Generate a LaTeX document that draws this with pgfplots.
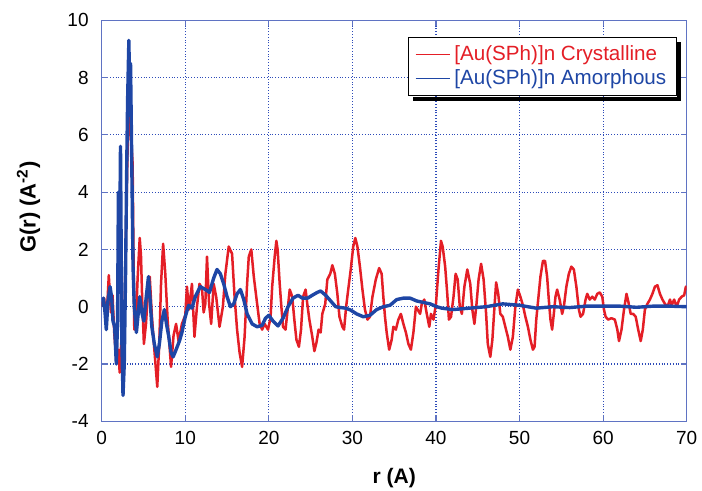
\documentclass[border=0pt]{standalone}
\usepackage{pgfplots}
\pgfplotsset{compat=1.18}
\usepackage{fontspec}
\setmainfont{Liberation Sans}

\definecolor{crystred}{RGB}{228,30,38}
\definecolor{amorphblue}{RGB}{30,70,165}
\definecolor{framecol}{RGB}{95,115,195}
\definecolor{gridcol}{RGB}{45,75,185}

\begin{document}
\begin{tikzpicture}
\useasboundingbox (-50.85pt,-34.85pt) rectangle (300.15pt,210.65pt);
\begin{axis}[
  at={(0,0)}, anchor=south west,
  scale only axis,
  width=292.5pt, height=200.5pt,
  xmin=0, xmax=70, ymin=-4, ymax=10,
  xtick={0,10,...,70},
  ytick={-4,-2,...,10},
  grid=major,
  major grid style={gridcol, densely dotted, line width=0.6pt},
  axis line style={framecol, line width=0.7pt},
  tick style={framecol, line width=0.6pt},
  major tick length=3pt,
  tick align=inside,
  /pgf/number format/assume math mode=true,
  ticklabel style={font=\fontsize{9.5}{11}\selectfont},
  xticklabel style={yshift=-1.5pt},
  yticklabel style={xshift=-3pt},
  xlabel={\textbf{r (A)}},
  ylabel={\textbf{G(r) (A\textsuperscript{-2})}},
  xlabel style={font=\fontsize{10.5}{12}\selectfont, at={(axis description cs:0.5,0)}, anchor=center, yshift=-28.4pt},
  ylabel style={font=\fontsize{11}{13}\selectfont, at={(axis description cs:-0.1251,0.534)}, anchor=center},
  legend style={name=lgd, at={(axis description cs:1,1)}, anchor=north east,
    xshift=-4.9pt, yshift=-8.4pt,
    draw=black, line width=0.6pt,
    font=\fontsize{10.3}{12}\selectfont,
    row sep=-1pt, inner xsep=3pt, inner ysep=2pt},
  legend cell align=left,
  legend image post style={line width=0.8pt},
]
\addplot[crystred, line width=1.25pt, line join=round] coordinates {
(0,0) (0.3,0.3) (0.55,-0.6) (0.85,1.1) (1.1,-0.2) (1.3,0.4) (1.5,-0.9) (1.75,-1.9)
(2.0,-1.5) (2.15,-2.3) (2.35,-1.2) (2.5,-2.4) (2.7,-1.0) (2.9,2.5) (3.1,5.5) (3.35,7.1)
(3.5,6.0) (3.7,5.0) (3.8,2.0) (3.9,-0.8) (4.1,-0.5) (4.3,1.0) (4.55,2.4) (4.7,1.8)
(4.85,0.2) (5.05,-1.3) (5.3,-0.6) (5.55,0.6) (5.75,1.05) (6.0,-0.3) (6.3,-1.5) (6.65,-2.8)
(6.9,-1.2) (7.1,0.8) (7.35,2.2) (7.6,1.2) (7.9,-0.5) (8.3,-2.1) (8.6,-1.0) (8.9,-0.6)
(9.2,-1.2) (9.6,-0.6) (10.0,-0.3) (10.2,0.7) (10.45,-0.1) (10.8,0.8) (11.1,-1.05) (11.4,0)
(11.7,0.8) (12.0,0.65) (12.2,-0.2) (12.4,0.1) (12.6,1.75) (12.85,0.1) (13.1,-0.6) (13.4,0.8)
(13.7,0.35) (14.1,-0.7) (14.5,0) (14.8,1.15) (15.2,2.1) (15.6,1.85) (15.9,0.35) (16.2,-0.8)
(16.5,-1.6) (16.8,-2.1) (17.1,-1.05) (17.4,0.8) (17.6,1.75) (17.9,2.0) (18.2,1.05) (18.6,0.1)
(18.9,-0.6) (19.2,-0.8) (19.5,-0.6) (19.9,-0.8) (20.2,-0.4) (20.4,0.7) (20.7,1.75) (20.9,2.3)
(21.05,2.0) (21.3,0.8) (21.5,0) (21.7,-0.7) (22.0,-0.8) (22.25,-0.1) (22.5,0.6) (22.8,0.35)
(23.05,-0.45) (23.3,-1.15) (23.6,-1.4) (23.85,-0.8) (24.1,0.35) (24.4,0.6) (24.6,0.1) (24.85,-0.45)
(25.2,-1.05) (25.45,-1.55) (25.7,-1.25) (25.95,-0.8) (26.2,-0.9) (26.4,-0.25) (26.75,0.1) (27.0,0.95)
(27.35,1.15) (27.6,1.45) (27.9,1.15) (28.2,0.45) (28.45,-0.35) (28.8,-0.7) (29.0,-0.8) (29.25,0)
(29.5,0.6) (29.8,1.3) (30.1,2.1) (30.35,2.4) (30.6,2.1) (30.9,1.4) (31.2,0.6) (31.5,-0.1)
(31.8,-0.45) (32.1,-0.35) (32.4,0.35) (32.8,0.95) (33.2,1.35) (33.5,1.15) (33.7,0.35) (33.9,-0.35)
(34.1,-0.9) (34.4,-1.5) (34.7,-1.15) (34.9,-0.7) (35.2,-0.8) (35.5,-0.45) (35.8,-0.25) (36.1,-0.6)
(36.4,-0.9) (36.7,-1.3) (37.0,-1.5) (37.3,-0.9) (37.6,0) (37.8,-0.1) (38.1,-0.25) (38.3,0.1)
(38.6,0.25) (38.9,-0.25) (39.2,-0.7) (39.4,-0.25) (39.7,-0.45) (40.0,0.1) (40.3,1.3) (40.6,2.3)
(40.8,2.1) (41.1,1.4) (41.35,0.45) (41.55,-0.45) (41.8,-0.35) (42.1,0.35) (42.35,1.15) (42.6,0.95)
(42.85,0) (43.1,-0.25) (43.4,0.7) (43.75,1.3) (44.1,0.8) (44.35,-0.1) (44.6,-0.6) (44.85,0.1)
(45.1,0.95) (45.4,1.5) (45.7,0.95) (46.0,-0.25) (46.2,-1.3) (46.5,-1.75) (46.75,-1.15) (47.0,0)
(47.2,0.85) (47.45,0.45) (47.7,-0.25) (48.0,-0.35) (48.3,-0.7) (48.6,-1.05) (48.9,-1.5) (49.2,-1.05)
(49.5,0) (49.8,0.6) (50.1,0.35) (50.4,0.05) (50.7,-0.35) (51.0,-0.7) (51.3,-1.15) (51.6,-1.5)
(51.8,-1.4) (52.0,-0.45) (52.3,0.45) (52.5,1.05) (52.8,1.6) (53.05,1.6) (53.3,1.05) (53.5,0.25)
(53.7,-0.45) (53.9,-0.8) (54.1,-0.25) (54.3,0.35) (54.5,0.6) (54.8,0.25) (55.1,-0.25) (55.3,0)
(55.6,0.7) (55.9,1.15) (56.2,1.4) (56.5,1.3) (56.8,0.7) (57.1,-0.1) (57.3,-0.35) (57.6,-0.25)
(57.9,0.25) (58.1,0.45) (58.4,0.25) (58.7,0.35) (59.0,0.25) (59.3,0.45) (59.6,0.5) (59.9,0.35)
(60.1,-0.1) (60.3,-0.35) (60.6,-0.45) (61.0,-0.4) (61.4,-0.45) (61.7,-0.8) (61.9,-1.2) (62.2,-0.8)
(62.5,-0.1) (62.8,0.45) (63.0,0.2) (63.3,-0.25) (63.6,-0.25) (63.9,-0.35) (64.2,-0.8) (64.5,-1.2)
(64.75,-0.8) (65.0,-0.1) (65.3,0.1) (65.6,0.25) (65.9,0.45) (66.2,0.7) (66.5,0.75) (66.8,0.45)
(67.1,0.25) (67.4,0.1) (67.7,0) (68.0,0.25) (68.2,0.05) (68.5,0.25) (68.8,0) (69.1,0.25)
(69.4,0.35) (69.7,0.4) (69.9,0.7) (70,0.6)
};
\addlegendentry{\textcolor{crystred}{[Au(SPh)]n Crystalline}}
\addplot[amorphblue, line width=1.7pt, line join=round] coordinates {
(0,0) (0.2,0.3) (0.4,-0.2) (0.55,-0.8) (0.75,0.2) (1.0,0.7) (1.2,0.3) (1.35,-0.5)
(1.55,-0.7) (1.75,-2.0) (1.9,-0.5) (2.0,4.0) (2.1,0.5) (2.25,5.6) (2.4,-1.0) (2.55,-3.1)
(2.7,-2.0) (2.85,1.0) (3.0,5.0) (3.1,7.2) (3.25,9.3) (3.35,7.5) (3.45,8.5) (3.6,5.0)
(3.75,1.4) (3.9,0) (4.15,-0.9) (4.35,-0.3) (4.55,0.35) (4.8,-0.2) (5.05,-0.5) (5.35,0.4)
(5.6,1.05) (5.8,0.2) (6.0,-0.7) (6.3,-1.3) (6.65,-1.75) (6.9,-1.3) (7.2,-0.5) (7.5,-0.1)
(7.75,-0.6) (8.0,-1.0) (8.3,-1.6) (8.55,-1.75) (8.9,-1.5) (9.3,-1.2) (9.6,-0.9) (10.0,-0.35)
(10.4,0.05) (10.8,-0.05) (11.2,0.35) (11.8,0.7) (12.4,0.6) (12.9,0.5) (13.4,1.0) (13.8,1.3)
(14.2,1.15) (14.6,0.8) (15.0,0.35) (15.4,0) (15.8,0.1) (16.2,0.45) (16.6,0.6) (17.0,0.25)
(17.4,-0.25) (18.0,-0.6) (18.6,-0.7) (19.2,-0.65) (19.6,-0.4) (20.0,-0.3) (20.5,-0.5) (21.1,-0.67)
(21.7,-0.4) (22.3,0) (22.9,0.3) (23.5,0.4) (24.0,0.3) (24.65,0.3) (25.2,0.4) (25.8,0.5)
(26.2,0.55) (26.8,0.4) (27.4,0.2) (28.0,0) (28.6,-0.03) (29.2,-0.05) (29.8,-0.12) (30.5,-0.25)
(31.3,-0.35) (32.1,-0.3) (32.9,-0.1) (33.7,0) (34.5,0.05) (35.3,0.25) (36.1,0.3) (36.9,0.3)
(37.7,0.2) (38.5,0.15) (39.3,0.1) (40.1,0) (40.7,-0.05) (42,-0.1) (44,-0.05) (46,0)
(48,0.1) (50,0.05) (52,-0.05) (54,0) (56,-0.03) (58,0.02) (60,0.02) (62,0.02)
(64,-0.02) (66,0.02) (68,0.02) (70,0)
};
\addlegendentry{\textcolor{amorphblue}{[Au(SPh)]n Amorphous}}
\end{axis}
% drop shadow along the lower and right edges of the legend box
\fill[black] ([xshift=2.3pt,yshift=-2.3pt]lgd.south west) rectangle ([xshift=2.3pt,yshift=-0.3pt]lgd.south east);
\fill[black] ([xshift=0.3pt,yshift=-2.3pt]lgd.north east) rectangle ([xshift=2.3pt,yshift=-2.3pt]lgd.south east);
\end{tikzpicture}
\end{document}
